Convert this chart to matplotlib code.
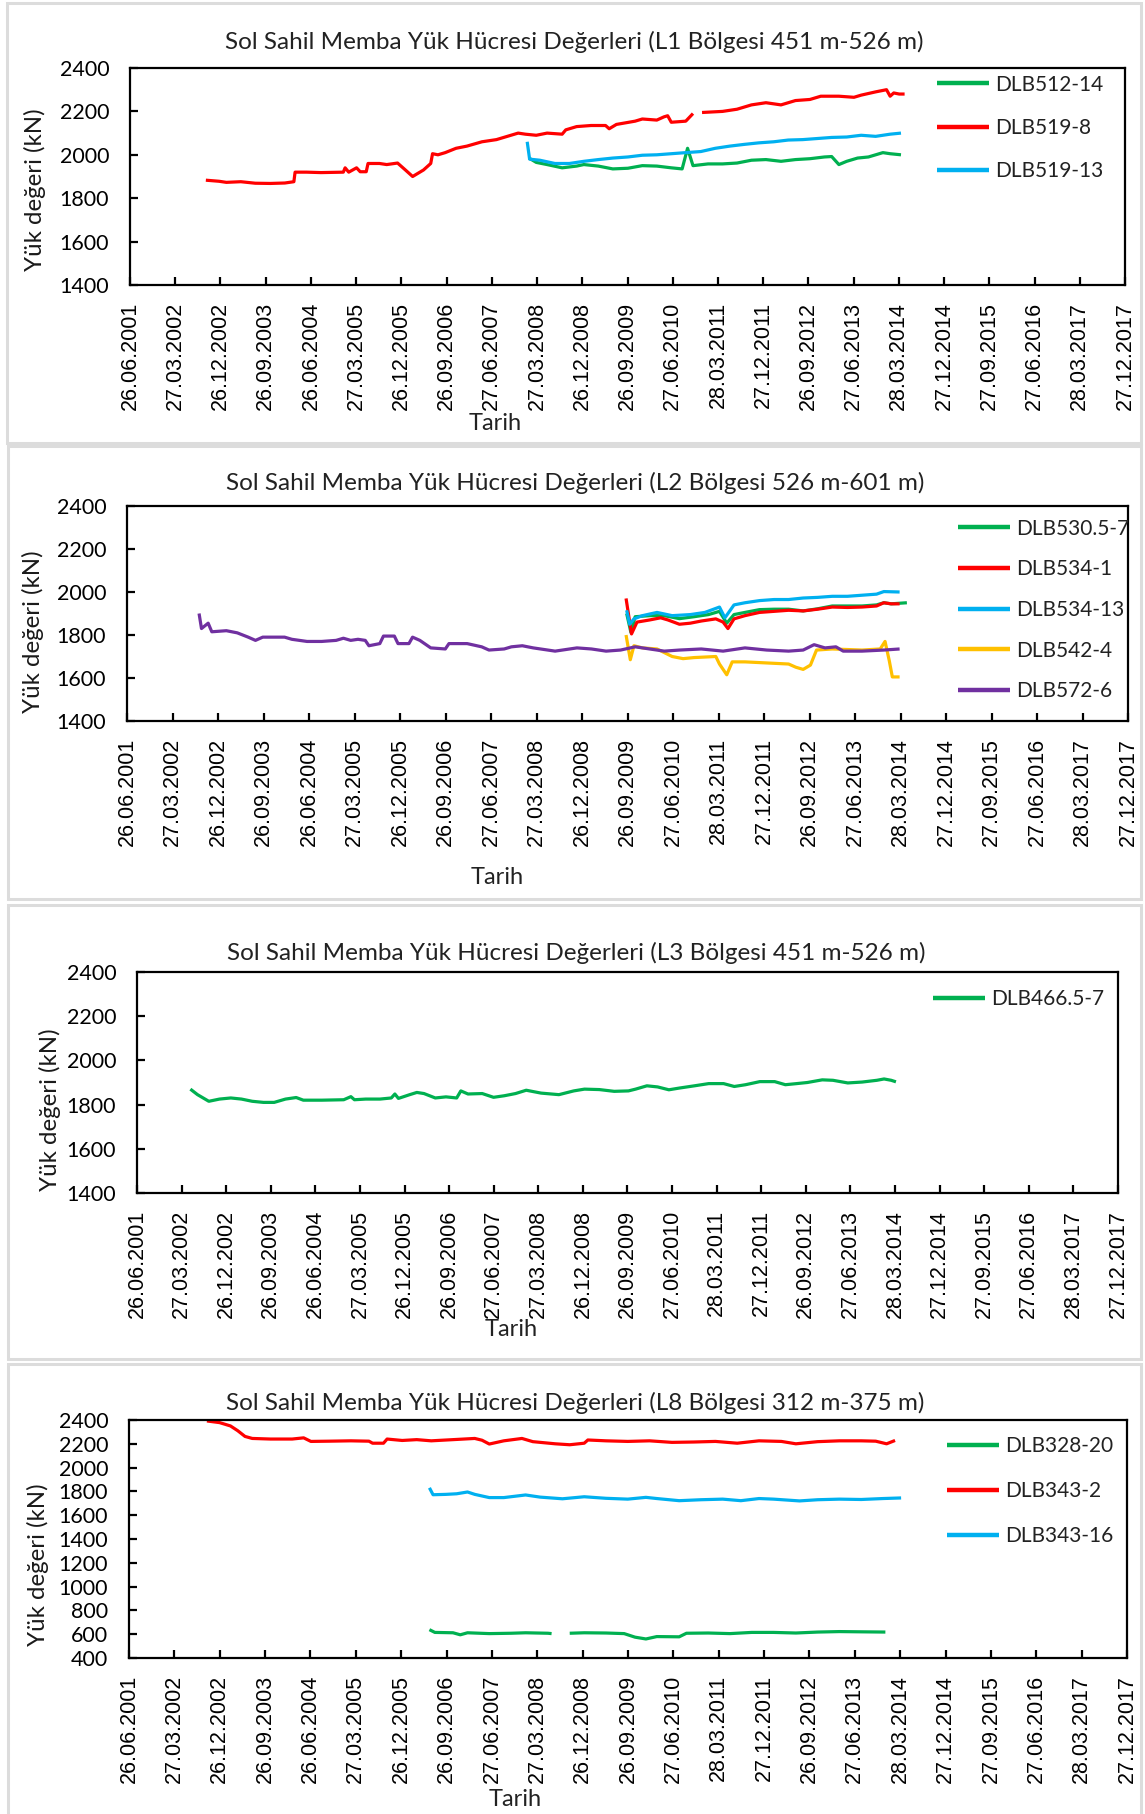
import matplotlib
matplotlib.use('Agg')
import matplotlib.pyplot as plt
import matplotlib.dates as mdates
import numpy as np
import pandas as pd
from matplotlib.patches import Rectangle

nan = np.nan
W, H = 1145, 1814
fig = plt.figure(figsize=(W / 100, H / 100), dpi=100)
fig.patch.set_facecolor('white')

CAL = ['Lato', 'DejaVu Sans']
ARI = ['Liberation Sans', 'DejaVu Sans']

# ---------------- data ----------------
TICK_LABELS = ['26.06.2001', '27.03.2002', '26.12.2002', '26.09.2003', '26.06.2004',
               '27.03.2005', '26.12.2005', '26.09.2006', '27.06.2007', '27.03.2008',
               '26.12.2008', '26.09.2009', '27.06.2010', '28.03.2011', '27.12.2011',
               '26.09.2012', '27.06.2013', '28.03.2014', '27.12.2014', '27.09.2015',
               '27.06.2016', '28.03.2017', '27.12.2017']

TITLES = ['Sol Sahil Memba Yük Hücresi Değerleri (L1 Bölgesi 451 m-526 m)',
          'Sol Sahil Memba Yük Hücresi Değerleri (L2 Bölgesi 526 m-601 m)',
          'Sol Sahil Memba Yük Hücresi Değerleri (L3 Bölgesi 451 m-526 m)',
          'Sol Sahil Memba Yük Hücresi Değerleri (L8 Bölgesi 312 m-375 m)']
YLABEL = 'Yük değeri (kN)'
XLABEL = 'Tarih'

# (decimal year, kN)
L1_DLB512_14 = [(2008.10, 1985), (2008.22, 1965), (2008.40, 1955), (2008.65, 1940), (2008.89, 1948),
                (2009.01, 1955), (2009.25, 1948), (2009.49, 1935), (2009.74, 1938), (2009.98, 1950),
                (2010.22, 1948), (2010.46, 1940), (2010.64, 1935), (2010.73, 2030), (2010.82, 1950),
                (2011.07, 1958), (2011.31, 1958), (2011.55, 1962), (2011.79, 1975), (2012.03, 1978),
                (2012.28, 1970), (2012.52, 1978), (2012.76, 1982), (2013.00, 1990), (2013.12, 1992),
                (2013.24, 1955), (2013.37, 1970), (2013.55, 1985), (2013.73, 1990), (2013.97, 2010),
                (2014.09, 2005), (2014.27, 2000)]
L1_DLB519_8 = [(2002.74, 1883), (2002.96, 1878), (2003.08, 1873), (2003.32, 1876), (2003.56, 1869),
               (2003.81, 1868), (2004.05, 1870), (2004.20, 1876), (2004.22, 1920), (2004.41, 1920),
               (2004.65, 1918), (2005.02, 1920), (2005.05, 1940), (2005.11, 1920), (2005.24, 1940),
               (2005.30, 1922), (2005.40, 1922), (2005.43, 1960), (2005.62, 1960), (2005.74, 1955),
               (2005.92, 1962), (2006.05, 1930), (2006.17, 1900), (2006.35, 1930), (2006.47, 1960),
               (2006.50, 2005), (2006.59, 2000), (2006.71, 2010), (2006.89, 2030), (2007.07, 2040),
               (2007.32, 2060), (2007.56, 2070), (2007.80, 2090), (2007.92, 2100), (2008.04, 2095),
               (2008.22, 2090), (2008.40, 2100), (2008.65, 2095), (2008.71, 2115), (2008.89, 2130),
               (2009.13, 2135), (2009.37, 2135), (2009.43, 2120), (2009.55, 2140), (2009.86, 2155),
               (2009.98, 2165), (2010.22, 2160), (2010.34, 2175), (2010.40, 2180), (2010.46, 2150),
               (2010.70, 2155), (2010.82, 2190), (2010.90, nan), (2010.97, 2195), (2011.31, 2200),
               (2011.55, 2210), (2011.79, 2230), (2012.03, 2240), (2012.28, 2230), (2012.52, 2250),
               (2012.76, 2255), (2012.94, 2270), (2013.24, 2270), (2013.49, 2265), (2013.61, 2275),
               (2013.85, 2290), (2014.03, 2300), (2014.09, 2270), (2014.15, 2285), (2014.24, 2280),
               (2014.33, 2280)]
L1_DLB519_13 = [(2008.07, 2060), (2008.11, 1980), (2008.28, 1975), (2008.53, 1960), (2008.77, 1960),
                (2009.01, 1970), (2009.25, 1978), (2009.49, 1985), (2009.74, 1990), (2009.98, 1998),
                (2010.22, 2000), (2010.46, 2005), (2010.70, 2010), (2010.95, 2015), (2011.19, 2030),
                (2011.43, 2040), (2011.67, 2048), (2011.91, 2055), (2012.16, 2060), (2012.40, 2068),
                (2012.64, 2070), (2012.88, 2075), (2013.12, 2080), (2013.37, 2082), (2013.61, 2090),
                (2013.85, 2085), (2014.09, 2095), (2014.27, 2100)]

L2_DLB530_5_7 = [(2009.72, 1900), (2009.79, 1812), (2009.86, 1885), (2010.10, 1890), (2010.34, 1890),
                 (2010.59, 1876), (2010.83, 1885), (2011.07, 1895), (2011.25, 1910), (2011.37, 1855),
                 (2011.49, 1895), (2011.67, 1905), (2011.91, 1918), (2012.15, 1920), (2012.39, 1920),
                 (2012.63, 1912), (2012.87, 1922), (2013.11, 1935), (2013.36, 1935), (2013.60, 1935),
                 (2013.84, 1940), (2013.96, 1950), (2014.08, 1945), (2014.34, 1950)]
L2_DLB534_1 = [(2009.71, 1970), (2009.80, 1805), (2009.89, 1860), (2010.10, 1870), (2010.28, 1880),
               (2010.40, 1870), (2010.59, 1850), (2010.77, 1855), (2010.95, 1865), (2011.19, 1875),
               (2011.31, 1860), (2011.39, 1830), (2011.49, 1875), (2011.67, 1890), (2011.91, 1905),
               (2012.15, 1910), (2012.39, 1915), (2012.63, 1912), (2012.87, 1920), (2013.11, 1930),
               (2013.36, 1928), (2013.60, 1930), (2013.84, 1935), (2013.96, 1950), (2014.08, 1945),
               (2014.22, 1945)]
L2_DLB534_13 = [(2009.72, 1915), (2009.77, 1850), (2009.84, 1875), (2009.98, 1890), (2010.22, 1905),
                (2010.47, 1890), (2010.77, 1895), (2011.01, 1905), (2011.25, 1930), (2011.34, 1880),
                (2011.49, 1940), (2011.67, 1950), (2011.91, 1960), (2012.15, 1965), (2012.39, 1965),
                (2012.63, 1972), (2012.87, 1975), (2013.11, 1980), (2013.36, 1980), (2013.60, 1985),
                (2013.84, 1990), (2013.96, 2002), (2014.22, 2000)]
L2_DLB542_4 = [(2009.71, 1800), (2009.78, 1685), (2009.84, 1750), (2009.98, 1740), (2010.22, 1735),
               (2010.47, 1700), (2010.65, 1690), (2010.83, 1695), (2011.19, 1700), (2011.25, 1665),
               (2011.37, 1615), (2011.46, 1675), (2011.67, 1675), (2012.03, 1670), (2012.39, 1665),
               (2012.51, 1650), (2012.63, 1640), (2012.75, 1660), (2012.85, 1730), (2013.11, 1735),
               (2013.60, 1730), (2013.90, 1735), (2013.98, 1770), (2014.05, 1680), (2014.10, 1605),
               (2014.22, 1605)]
L2_DLB572_6 = [(2002.67, 1900), (2002.71, 1830), (2002.82, 1855), (2002.88, 1815), (2003.12, 1820),
               (2003.30, 1810), (2003.48, 1790), (2003.60, 1775), (2003.72, 1790), (2004.08, 1790),
               (2004.20, 1780), (2004.45, 1770), (2004.69, 1770), (2004.93, 1775), (2005.05, 1785),
               (2005.17, 1775), (2005.29, 1780), (2005.41, 1775), (2005.47, 1750), (2005.65, 1760),
               (2005.71, 1795), (2005.89, 1795), (2005.95, 1760), (2006.13, 1760), (2006.19, 1790),
               (2006.31, 1775), (2006.49, 1740), (2006.73, 1735), (2006.79, 1760), (2007.09, 1760),
               (2007.33, 1745), (2007.45, 1730), (2007.70, 1735), (2007.82, 1745), (2008.00, 1750),
               (2008.18, 1740), (2008.54, 1725), (2008.90, 1740), (2009.14, 1735), (2009.38, 1725),
               (2009.62, 1730), (2009.86, 1745), (2010.10, 1735), (2010.34, 1725), (2010.59, 1730),
               (2010.95, 1735), (2011.31, 1725), (2011.67, 1740), (2012.03, 1730), (2012.39, 1725),
               (2012.63, 1730), (2012.81, 1755), (2012.99, 1740), (2013.17, 1745), (2013.29, 1725),
               (2013.60, 1725), (2013.96, 1730), (2014.22, 1735)]

L3_DLB466_5_7 = [(2002.38, 1870), (2002.50, 1845), (2002.69, 1815), (2002.87, 1825), (2003.06, 1830),
                 (2003.24, 1825), (2003.42, 1815), (2003.61, 1810), (2003.79, 1810), (2003.98, 1825),
                 (2004.16, 1832), (2004.28, 1820), (2004.59, 1820), (2004.96, 1822), (2005.08, 1836),
                 (2005.14, 1822), (2005.33, 1825), (2005.57, 1825), (2005.76, 1830), (2005.82, 1848),
                 (2005.88, 1828), (2006.07, 1845), (2006.19, 1855), (2006.31, 1850), (2006.50, 1830),
                 (2006.68, 1835), (2006.86, 1830), (2006.93, 1862), (2007.05, 1848), (2007.29, 1850),
                 (2007.48, 1833), (2007.66, 1840), (2007.85, 1850), (2008.03, 1865), (2008.28, 1852),
                 (2008.58, 1845), (2008.83, 1862), (2009.01, 1870), (2009.26, 1868), (2009.51, 1860),
                 (2009.75, 1862), (2009.87, 1870), (2010.06, 1885), (2010.24, 1880), (2010.43, 1867),
                 (2010.61, 1875), (2010.86, 1885), (2011.10, 1895), (2011.35, 1895), (2011.53, 1882),
                 (2011.72, 1890), (2011.96, 1904), (2012.21, 1904), (2012.39, 1890), (2012.58, 1895),
                 (2012.76, 1900), (2013.01, 1912), (2013.19, 1910), (2013.44, 1898), (2013.68, 1902),
                 (2013.93, 1910), (2014.05, 1916), (2014.17, 1910), (2014.25, 1903)]

L8_DLB328_20 = [(2006.45, 638), (2006.54, 615), (2006.84, 612), (2006.96, 595), (2007.08, 612),
                (2007.44, 605), (2007.80, 608), (2008.04, 612), (2008.41, 608), (2008.47, 605),
                (2008.60, nan), (2008.77, 608), (2009.01, 612), (2009.37, 610), (2009.67, 605),
                (2009.85, 575), (2010.03, 560), (2010.21, 580), (2010.58, 578), (2010.70, 608),
                (2011.06, 610), (2011.42, 605), (2011.78, 615), (2012.14, 615), (2012.51, 610),
                (2012.87, 618), (2013.23, 622), (2013.59, 620), (2013.99, 618)]
L8_DLB343_2 = [(2002.77, 2392), (2002.98, 2378), (2003.16, 2350), (2003.28, 2310), (2003.40, 2262),
               (2003.52, 2245), (2003.82, 2240), (2004.18, 2240), (2004.37, 2250), (2004.49, 2220),
               (2004.79, 2222), (2005.15, 2225), (2005.45, 2222), (2005.51, 2205), (2005.69, 2205),
               (2005.75, 2240), (2006.00, 2228), (2006.24, 2235), (2006.48, 2225), (2006.84, 2235),
               (2007.20, 2245), (2007.32, 2230), (2007.44, 2198), (2007.68, 2225), (2007.98, 2245),
               (2008.16, 2218), (2008.53, 2200), (2008.77, 2192), (2009.01, 2205), (2009.07, 2232),
               (2009.37, 2225), (2009.73, 2220), (2010.09, 2225), (2010.46, 2212), (2010.82, 2215),
               (2011.18, 2220), (2011.54, 2205), (2011.90, 2225), (2012.27, 2220), (2012.51, 2200),
               (2012.87, 2218), (2013.23, 2225), (2013.59, 2225), (2013.83, 2222), (2014.01, 2200),
               (2014.15, 2228)]
L8_DLB343_16 = [(2006.45, 1830), (2006.51, 1772), (2006.72, 1775), (2006.90, 1780), (2007.08, 1795),
                (2007.20, 1775), (2007.44, 1748), (2007.68, 1748), (2008.04, 1770), (2008.28, 1752),
                (2008.65, 1738), (2009.01, 1755), (2009.37, 1742), (2009.73, 1735), (2010.03, 1750),
                (2010.21, 1740), (2010.58, 1722), (2010.94, 1730), (2011.30, 1735), (2011.60, 1722),
                (2011.90, 1740), (2012.14, 1735), (2012.57, 1720), (2012.87, 1730), (2013.23, 1735),
                (2013.59, 1732), (2013.95, 1740), (2014.25, 1745)]

GREEN, RED, BLUE, ORANGE, PURPLE = '#00B050', '#FF0000', '#00B0F0', '#FFC000', '#7030A0'

PANELS = [
    dict(series=[('DLB512-14', L1_DLB512_14, GREEN), ('DLB519-8', L1_DLB519_8, RED),
                 ('DLB519-13', L1_DLB519_13, BLUE)],
         ylim=(1400, 2400), ystep=200),
    dict(series=[('DLB530.5-7', L2_DLB530_5_7, GREEN), ('DLB534-1', L2_DLB534_1, RED),
                 ('DLB534-13', L2_DLB534_13, BLUE), ('DLB542-4', L2_DLB542_4, ORANGE),
                 ('DLB572-6', L2_DLB572_6, PURPLE)],
         ylim=(1400, 2400), ystep=200),
    dict(series=[('DLB466.5-7', L3_DLB466_5_7, GREEN)],
         ylim=(1400, 2400), ystep=200),
    dict(series=[('DLB328-20', L8_DLB328_20, GREEN), ('DLB343-2', L8_DLB343_2, RED),
                 ('DLB343-16', L8_DLB343_16, BLUE)],
         ylim=(400, 2400), ystep=200),
]

# ---------------- layout (pixels) ----------------
BOXES = [(7, 3, 1141, 443), (8, 446, 1141, 899), (8, 905, 1141, 1359), (8, 1364, 1141, 1820)]
AXES = [(130, 68, 1125, 285), (127, 506, 1128, 721), (137, 972, 1118, 1193), (129, 1420, 1127, 1658)]
TITLE_POS = [(574, 42), (575, 483), (576, 953), (575, 1403)]
XLAB_POS = [(495, 423), (497, 877), (511, 1330), (515, 1800)]
YLAB_POS = [(35, 190), (33, 632), (50, 1110), (38, 1565)]
LEG_POS = [(937, 128, 1.12), (958, 610, 0.99), (933, 999, 1.0), (947, 1491, 1.21)]


def fx(x):
    return x / W


def fy(y):
    return 1 - y / H


def yr2num(y):
    base = mdates.date2num(pd.Timestamp('2001-01-01'))
    return base + (np.asarray(y, float) - 2001.0) * 365.25


tick_pos = mdates.date2num(pd.to_datetime(TICK_LABELS, format='%d.%m.%Y'))

for i, p in enumerate(PANELS):
    bx0, by0, bx1, by1 = BOXES[i]
    fig.add_artist(Rectangle((fx(bx0), fy(by1)), fx(bx1 - bx0), (by1 - by0) / H,
                             transform=fig.transFigure, facecolor='white',
                             edgecolor='#dcdcdc', linewidth=2.2, zorder=0))
    l, t, r, b = AXES[i]
    ax = fig.add_axes([fx(l), fy(b), fx(r - l), (b - t) / H])
    ax.set_facecolor('none')
    for name, data, col in p['series']:
        arr = np.array(data, dtype=float)
        ax.plot(yr2num(arr[:, 0]), arr[:, 1], color=col, lw=2.3, label=name,
                solid_capstyle='butt')
    ax.set_xlim(tick_pos[0], tick_pos[-1])
    ax.set_ylim(*p['ylim'])
    ax.set_xticks(tick_pos)
    ax.set_xticklabels(TICK_LABELS, rotation=90, family=ARI, fontsize=15.5)
    yt = np.arange(p['ylim'][0], p['ylim'][1] + 1, p['ystep'])
    ax.set_yticks(yt)
    ax.set_yticklabels([str(v) for v in yt], family=CAL, fontsize=15.5)
    ax.tick_params(axis='both', direction='in', length=6, width=1.6, colors='black')
    ax.tick_params(axis='x', pad=12)
    ax.tick_params(axis='y', pad=15)
    for s in ax.spines.values():
        s.set_linewidth(1.6)
        s.set_color('black')

    fig.text(fx(TITLE_POS[i][0]), fy(TITLE_POS[i][1]), TITLES[i], ha='center', va='center',
             family=CAL, fontsize=17.5, color='#222222')
    fig.text(fx(XLAB_POS[i][0]), fy(XLAB_POS[i][1]), XLABEL, ha='center', va='center',
             family=CAL, fontsize=17, color='#222222')
    fig.text(fx(YLAB_POS[i][0]), fy(YLAB_POS[i][1]), YLABEL, ha='center', va='center',
             rotation=90, family=CAL, fontsize=17.3, color='#1a1a1a')

    lx, ly, lsp = LEG_POS[i]
    leg = ax.legend(loc='center left', bbox_to_anchor=(fx(lx), fy(ly)),
                    bbox_transform=fig.transFigure, frameon=False, borderpad=0,
                    borderaxespad=0, handlelength=2.5, handletextpad=0.3,
                    labelspacing=lsp, prop={'family': CAL, 'size': 15})
    for line in leg.get_lines():
        line.set_linewidth(3.2)
    for txt in leg.get_texts():
        txt.set_color('#222222')

fig.savefig('out.png', dpi=100)
